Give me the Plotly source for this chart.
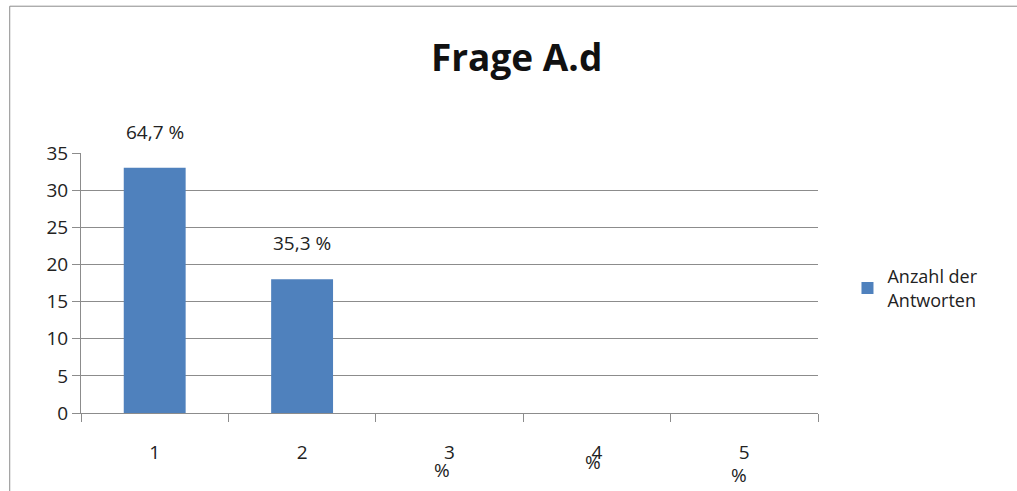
import plotly.graph_objects as go

# data
categories = ["1", "2", "3", "4", "5"]
antworten = [33, 18, 0, 0, 0]
series_name = "Anzahl der<br>Antworten"
y_ticks = [0, 5, 10, 15, 20, 25, 30, 35]

total = sum(antworten)
labels = []
for v in antworten:
    if v > 0:
        labels.append(f"{v / total * 100:.1f}".replace(".", ",") + " %")
    else:
        labels.append("%")

blue = "#4F81BD"
grey = "#8C8C8C"
font = "Open Sans, Liberation Sans, sans-serif"

fig = go.Figure(go.Bar(
    x=categories,
    y=antworten,
    name=series_name,
    marker=dict(color=blue, line=dict(width=0)),
    showlegend=True,
))

# data labels (zero bars get their "%" dropped below the axis like in Excel)
zero_shift = {"3": (-57, -8), "4": (-49, -4), "5": (-62, -5)}
for i, (c, v, lab) in enumerate(zip(categories, antworten, labels)):
    if v > 0:
        fig.add_annotation(x=i, y=v, text=lab, showarrow=False, yshift=36,
                           font=dict(size=19, color="#222", family=font))
    else:
        ys, xs = zero_shift[c]
        fig.add_annotation(x=i, y=0, text=lab, showarrow=False,
                           yshift=ys, xshift=xs,
                           font=dict(size=19, color="#222", family=font))

# outer chart border (extends past the picture on the right/bottom)
fig.add_shape(type="rect", xref="paper", yref="paper",
              x0=-0.0967, x1=1.5, y0=-1.0, y1=1.5646,
              line=dict(color=grey, width=1), layer="below")

fig.update_layout(
    width=1017, height=491,
    margin=dict(l=81, r=199, t=153, b=78),
    paper_bgcolor="white", plot_bgcolor="white",
    bargap=0.58,
    title=dict(text="<b>Frage A.d</b>", x=0.508, xanchor="center",
               y=1 - 58 / 491, yanchor="middle",
               font=dict(size=37, color="#111", family=font)),
    legend=dict(x=1.04, y=0.48, xanchor="left", yanchor="middle",
                font=dict(size=18, color="#222", family=font),
                itemwidth=30),
    font=dict(family=font),
)

fig.update_xaxes(
    type="category", tickson="boundaries", ticks="outside", ticklen=8,
    tickcolor=grey, showline=True, linecolor=grey, showgrid=False,
    ticklabelstandoff=22,
    tickfont=dict(size=19, color="#222", family=font),
)
fig.update_yaxes(
    range=[0, 35], tickvals=y_ticks, ticks="outside", ticklen=8,
    tickcolor=grey, showline=True, linecolor=grey,
    showgrid=True, gridcolor=grey, gridwidth=1, zeroline=False,
    tickfont=dict(size=19, color="#222", family=font),
)

fig.write_html("out.html", config={"displayModeBar": False},
               post_script="document.body.style.margin='0';")
